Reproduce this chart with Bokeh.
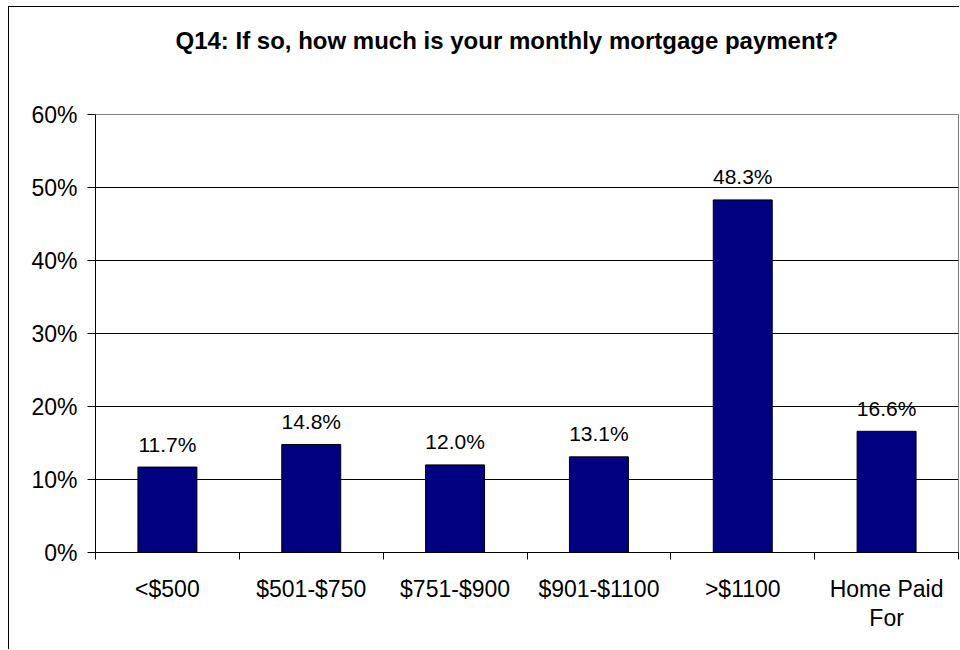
from bokeh.plotting import figure
from bokeh.models import FixedTicker, PrintfTickFormatter, ColumnDataSource, Range1d, Title
from bokeh.embed import file_html
from bokeh.resources import INLINE
from bokeh.core.properties import value

categories = ["<$500", "$501-$750", "$751-$900", "$901-$1100", ">$1100", "Home Paid\nFor"]
percentages = [11.7, 14.8, 12.0, 13.1, 48.3, 16.6]
y_ticks = [0, 10, 20, 30, 40, 50, 60]
title_text = "Q14:  If so, how much is your monthly mortgage payment?"

FONT = "Liberation Sans"

x_pos = [i + 0.5 for i in range(len(categories))]
labels = [f"{v:.1f}%" for v in percentages]
src = ColumnDataSource(dict(x=x_pos, top=percentages, label=labels))

p = figure(width=951, height=643, output_backend="svg", toolbar_location=None,
           x_range=Range1d(0, len(categories)), y_range=Range1d(y_ticks[0], y_ticks[-1]),
           min_border_left=86, min_border_right=2, min_border_top=107, min_border_bottom=98,
           background_fill_color="white", border_fill_color="white")
p.margin = (6, 0, 0, 8)
p.styles = {"border-left": "1px solid black", "border-top": "1px solid black"}
p.title = None

# white spacer (closest to the frame) that lifts the chart title upward
spacer = Title(text=".", text_font_size="1px", text_color="white", standoff=58)
p.add_layout(spacer, "above")

# the visible chart title, stacked above the spacer
main_title = Title(text=title_text, align="left", offset=80, vertical_align="bottom",
                   standoff=0, text_font=FONT, text_font_style="bold",
                   text_font_size="24px", text_color="black")
p.add_layout(main_title, "above")

p.outline_line_color = "#808080"
p.outline_line_width = 1

p.xgrid.visible = False
p.ygrid.ticker = FixedTicker(ticks=y_ticks[1:-1])
p.ygrid.grid_line_color = "black"
p.ygrid.grid_line_width = 1

# x axis
xa = p.xaxis[0]
xa.ticker = FixedTicker(ticks=x_pos, minor_ticks=list(range(len(categories) + 1)))
xa.major_label_overrides = {x: c for x, c in zip(x_pos, categories)}
xa.major_tick_out = 0
xa.major_tick_in = 0
xa.minor_tick_out = 7
xa.minor_tick_in = 0
xa.minor_tick_line_color = "black"
xa.axis_line_color = "black"
xa.major_label_text_font = FONT
xa.major_label_text_font_size = "23px"
xa.major_label_text_color = "black"
xa.major_label_standoff = 16
xa.major_label_text_line_height = 1.15

# y axis
ya = p.yaxis[0]
ya.ticker = FixedTicker(ticks=y_ticks)
ya.formatter = PrintfTickFormatter(format="%d%%")
ya.major_tick_out = 8
ya.major_tick_in = 0
ya.minor_tick_out = 0
ya.minor_tick_in = 0
ya.major_tick_line_color = "black"
ya.axis_line_color = "black"
ya.major_label_text_font = FONT
ya.major_label_text_font_size = "23px"
ya.major_label_text_color = "black"
ya.major_label_standoff = 10

p.vbar(x="x", top="top", width=0.41, source=src,
       fill_color="#000080", line_color="black", line_width=1)

p.text(x="x", y="top", text="label", source=src,
       text_align="center", text_baseline="alphabetic", y_offset=-23,
       text_font=value(FONT), text_font_size="21px", text_color="black")

open("out.html", "w").write(file_html(p, INLINE))
